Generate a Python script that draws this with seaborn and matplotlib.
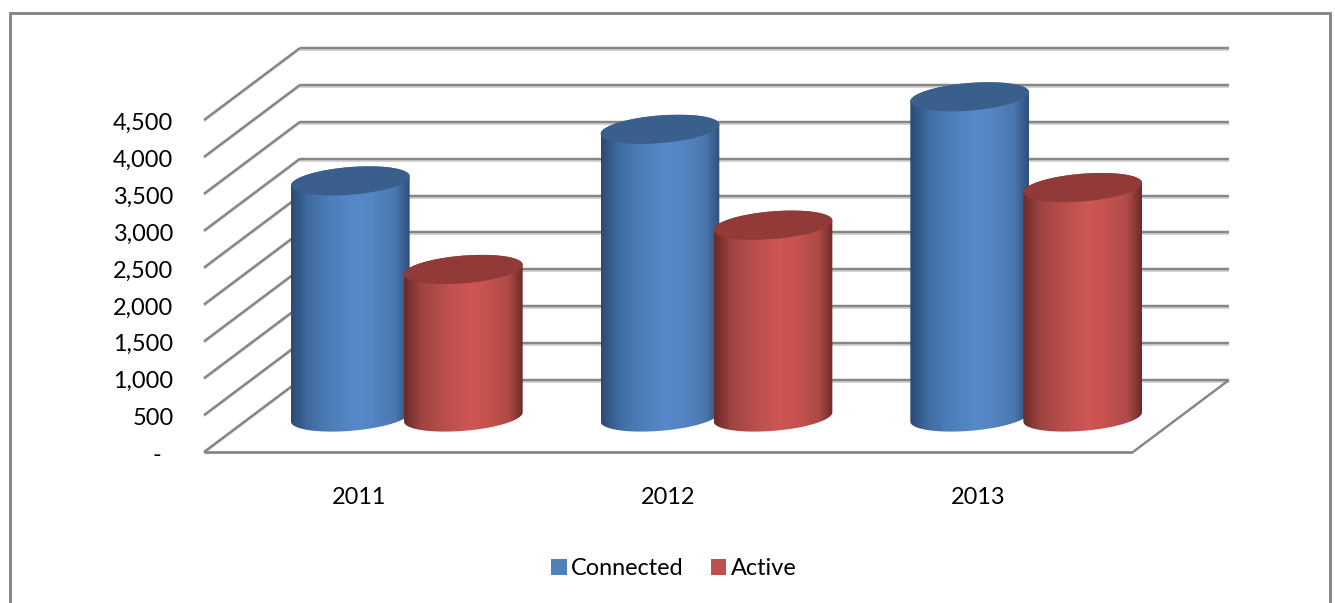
import numpy as np
import pandas as pd
import matplotlib
matplotlib.use("Agg")
import matplotlib.pyplot as plt
import seaborn as sns
from matplotlib.colors import LinearSegmentedColormap
from matplotlib.lines import Line2D
from matplotlib.patches import Patch, Polygon
from matplotlib.transforms import Affine2D, IdentityTransform

years = ["2011", "2012", "2013"]
connected = [3200, 3900, 4340]
active = [2000, 2600, 3110]
series_names = ["Connected", "Active"]
palette = ["#4F81BD", "#C0504D"]
top_colors = ["#3A5F8D", "#913A38"]
ramps = [
    ["#2B4A72", "#3F6A9F", "#4C7DB9", "#5788CA", "#5585C5", "#4A77AE", "#2F4E78"],
    ["#6A2A28", "#9C4340", "#B74E4B", "#CE5654", "#C85250", "#AE4A47", "#6C2B29"],
]
ramp_stops = [0.0, 0.14, 0.32, 0.55, 0.68, 0.88, 1.0]
y_ticks = list(range(0, 5000, 500))

W, H = 1335, 603
sns.set_theme(style="white")
plt.rcParams["font.family"] = ["Lato", "DejaVu Sans"]
FS = 16.9
GRID = "#868686"
SHADOW = "#CFCFCF"

fig = plt.figure(figsize=(W / 100, H / 100), dpi=100, facecolor="white")
# plot box = the front plane of the 3D chart
L, R, B, T = 204, 1133, 452, 120
ax = fig.add_axes([L / W, 1 - B / H, (R - L) / W, (B - T) / H], facecolor="none")

df = pd.DataFrame({
    "year": years * 2,
    "series": [series_names[0]] * 3 + [series_names[1]] * 3,
    "value": connected + active,
})
sns.barplot(data=df, x="year", y="value", hue="series", palette=palette,
            width=0.73, gap=0, legend=False, ax=ax, saturation=1)
ax.set_xlim(-0.5, 2.5)
ax.set_ylim(0, 4500)
ax.set_xlabel("")
ax.set_ylabel("")
for s in ax.spines.values():
    s.set_visible(False)

ax.set_yticks(y_ticks)
ax.set_yticklabels([f"{v:,}" if v else "-  " for v in y_ticks], fontsize=FS, color="black")
ax.tick_params(axis="y", length=0, pad=22)
ax.tick_params(axis="x", length=0, pad=25.5, labelsize=FS, labelcolor="black")
for lab in ax.get_yticklabels():
    lab.set_transform(lab.get_transform() + Affine2D().translate(0, -1.5))

fig.canvas.draw()

# depth offsets in pixels
BACK = (96, 72)
MID = (48, 35)
front_t = ax.transData
back_t = ax.transData + Affine2D().translate(*BACK)
mid_t = ax.transData + Affine2D().translate(*MID)
ident = IdentityTransform()


def line(p, q, color=GRID, lw=1.75, z=1):
    ax.add_artist(Line2D([p[0], q[0]], [p[1], q[1]], color=color, lw=lw, transform=ident,
                         solid_capstyle="butt", zorder=z, clip_on=False))


# walls: gridlines driven by the tick values
for v in y_ticks:
    fl, fr = front_t.transform([(-0.5, v), (2.5, v)])
    bl, br = back_t.transform([(-0.5, v), (2.5, v)])
    line((bl[0], bl[1] - 2), (br[0], br[1] - 2), color=SHADOW, lw=1.3, z=1)
    line(bl, br, z=1.1)
    line((fl[0], fl[1] - 1), (bl[0], bl[1] - 1), color=SHADOW, lw=1.6, z=1)
    line(fl, bl, z=1.1)
fl, fr = front_t.transform([(-0.5, 0), (2.5, 0)])
br = back_t.transform((2.5, 0))
line(fl, fr, lw=2.0, z=1.2)
line(fr, br, z=1.2)


def ellipse(cx, cy, a, b, th, t):
    ux, uy = np.cos(th), np.sin(th)
    x = cx + a * np.cos(t) * ux - b * np.sin(t) * uy
    y = cy + a * np.cos(t) * uy + b * np.sin(t) * ux
    return np.column_stack([x, y])


def cylinder(x0, w, h, ramp, top_color, z):
    (xl, y0), (xr, y1) = mid_t.transform([(x0, 0), (x0 + w, h)])
    cx = (xl + xr) / 2
    a = (xr - xl) / 2
    b, th = a * 0.232, np.radians(4.7)
    tr = np.arctan(-(b / a) * np.tan(th))
    tl = tr + np.pi
    arc = ellipse(cx, y0, a, b, th, np.linspace(tl, tr + 2 * np.pi, 120))
    back_arc = ellipse(cx, y1, a, b, th, np.linspace(tr, tl, 120))
    pts = np.vstack([arc, back_arc])
    body = Polygon(pts, closed=True, transform=ident, facecolor="none", edgecolor="none")
    ax.add_patch(body)
    cmap = LinearSegmentedColormap.from_list("c", list(zip(ramp_stops, ramp)))
    im = ax.imshow(np.linspace(0, 1, 256)[None, :], cmap=cmap, aspect="auto", vmin=0, vmax=1,
                   extent=(pts[:, 0].min(), pts[:, 0].max(), pts[:, 1].min(), pts[:, 1].max()),
                   origin="lower", transform=ident, zorder=z, interpolation="bilinear")
    body.set_clip_on(False)
    im.set_clip_box(fig.bbox)
    im.set_clip_path(body)
    lid = Polygon(ellipse(cx, y1, a, b, th, np.linspace(0, 2 * np.pi, 200)), closed=True,
                  transform=ident, facecolor=top_color, edgecolor="none", zorder=z + 0.1,
                  clip_on=False)
    ax.add_patch(lid)


WIDEN = 119 / 113
for si, container in enumerate(ax.containers):
    for bar in container:
        w = bar.get_width()
        xc = bar.get_x() + w / 2
        bar.set_visible(False)
        cylinder(xc - w * WIDEN / 2, w * WIDEN, bar.get_height(), ramps[si], top_colors[si], 3 + si)

ax.set_xlim(-0.5, 2.5)
ax.set_ylim(0, 4500)

handles = [Patch(facecolor=c, edgecolor="none") for c in palette]
ax.legend(handles, series_names, loc="center", bbox_to_anchor=(674 / W, 1 - 568.5 / H),
          bbox_transform=fig.transFigure, ncol=2, frameon=False, fontsize=FS, borderpad=0,
          handlelength=0.65, handleheight=0.65, handletextpad=0.2, columnspacing=1.15,
          labelcolor="black")

# outer chart frame (the bottom edge is cropped off in the reference)
FL, FR, FT = 9.5, 1329.5, 12.5
fx = [FL / W, FL / W, FR / W, FR / W]
fy = [0, 1 - FT / H, 1 - FT / H, 0]
fig.add_artist(Line2D(fx, fy, color=GRID, lw=2.1, transform=fig.transFigure, solid_joinstyle="miter"))

fig.savefig("out.png", dpi=100, facecolor="white")
